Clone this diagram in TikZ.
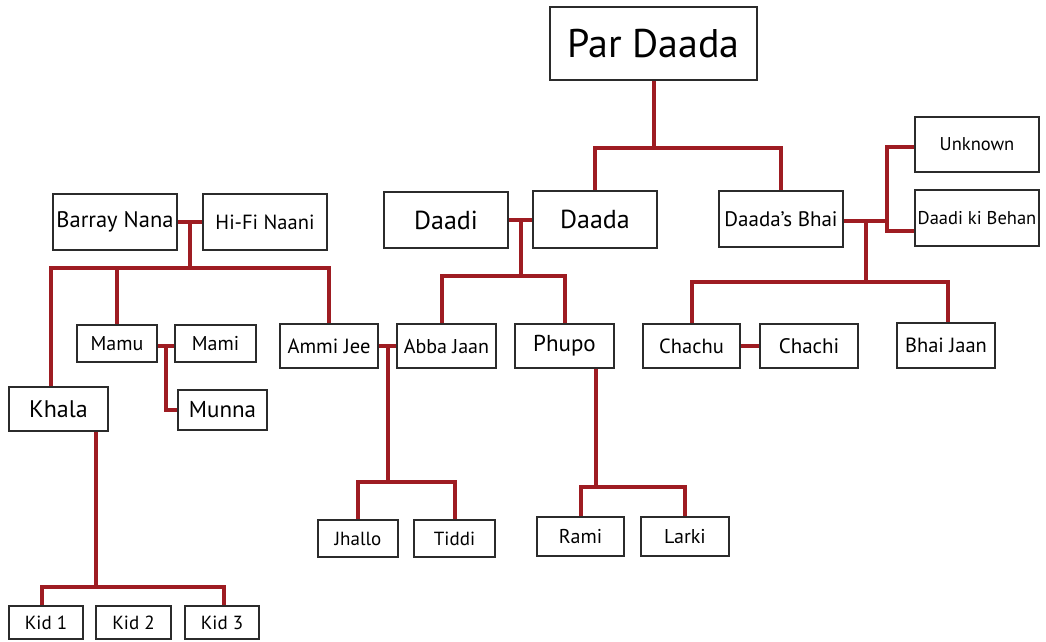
\documentclass[tikz,border=0pt]{standalone}
\usepackage{fontspec}
\setmainfont{PT Sans}
\usetikzlibrary{calc}
\pgfdeclarelayer{links}
\pgfsetlayers{links,main}
\definecolor{linkred}{HTML}{9E1C22}
\definecolor{boxline}{HTML}{2B2B2B}
\tikzset{
  person/.style={draw=boxline, line width=2pt, fill=white, inner sep=0pt, align=center},
  fs/.style={font=\fontsize{#1}{#1}\selectfont},
  link/.style={draw=linkred, line width=4pt, line join=miter},
}
\begin{document}
\begin{tikzpicture}[x=1pt,y=-1pt]
\useasboundingbox (0,0) rectangle (1046,641);

% family members
\node[person, fs=40, minimum width=207pt, minimum height=73pt] (pd) at (653.5,43.5) {Par Daada};
\node[person, fs=26, minimum width=124pt, minimum height=56pt] (daadi) at (446,220) {Daadi};
\node[person, fs=26, minimum width=124pt, minimum height=57pt] (daada) at (595,219.5) {Daada};
\node[person, fs=21, minimum width=124pt, minimum height=56pt] (bhai) at (781,219) {Daada’s Bhai};
\node[person, fs=18.5, minimum width=124pt, minimum height=55pt] (unknown) at (977,144.5) {Unknown};
\node[person, fs=18.5, minimum width=124pt, minimum height=56pt] (behan) at (977,218) {Daadi ki Behan};

\node[person, fs=22.5, minimum width=124pt, minimum height=56pt] (barray) at (115,222) {Barray Nana};
\node[person, fs=20.5, minimum width=124pt, minimum height=56pt] (hifi) at (265,222) {Hi-Fi Naani};
\node[person, fs=20, minimum width=80pt, minimum height=37pt] (mamu) at (117,343.5) {Mamu};
\node[person, fs=20, minimum width=81pt, minimum height=37pt] (mami) at (215.5,343.5) {Mami};
\node[person, fs=23, minimum width=89pt, minimum height=40pt] (munna) at (222.5,410) {Munna};
\node[person, fs=24, minimum width=99pt, minimum height=44pt] (khala) at (58.5,409) {Khala};
\node[person, fs=20.5, minimum width=98pt, minimum height=44pt] (ammi) at (329,346) {Ammi Jee};
\node[person, fs=20, minimum width=99pt, minimum height=44pt] (abba) at (446.5,346) {Abba Jaan};
\node[person, fs=23, minimum width=99pt, minimum height=44pt] (phupo) at (564.5,346) {Phupo};
\node[person, fs=20.5, minimum width=97pt, minimum height=44pt] (chachu) at (691.5,346) {Chachu};
\node[person, fs=21, minimum width=98pt, minimum height=44pt] (chachi) at (809,346) {Chachi};
\node[person, fs=20.5, minimum width=98pt, minimum height=45pt] (bhaijaan) at (946,345.5) {Bhai Jaan};

\node[person, fs=19, minimum width=80pt, minimum height=37pt] (jhallo) at (358,538.5) {Jhallo};
\node[person, fs=19, minimum width=81pt, minimum height=37pt] (tiddi) at (454.5,538.5) {Tiddi};
\node[person, fs=20, minimum width=87pt, minimum height=39pt] (rami) at (580.5,536.5) {Rami};
\node[person, fs=20, minimum width=88pt, minimum height=39pt] (larki) at (685,536.5) {Larki};
\node[person, fs=19, minimum width=74pt, minimum height=33pt] (kid1) at (46,622.5) {Kid 1};
\node[person, fs=19, minimum width=75pt, minimum height=33pt] (kid2) at (133.5,622.5) {Kid 2};
\node[person, fs=19, minimum width=74pt, minimum height=33pt] (kid3) at (222,622.5) {Kid 3};

% connecting lines, kept behind the boxes
\begin{pgfonlayer}{links}
  % Par Daada and his sons
  \coordinate (j-pd) at ($(pd.south)+(0,67)$);
  \path[link] (pd.south) -- (j-pd);
  \path[link] (daada.north) |- (j-pd) -| (bhai.north);

  % Daadi + Daada and their children
  \coordinate (j-dd) at ($(daadi.east)!0.5!(daada.west)$);
  \coordinate (j-ddbar) at ($(j-dd)+(0,56)$);
  \path[link] (daadi.east) -- (daadi.east -| daada.west);
  \path[link] (j-dd) -- (j-ddbar);
  \path[link] ($(abba.north)+(-4.5,0)$) |- (j-ddbar) -| (phupo.north);

  % Daada's Bhai, his possible wives and children
  \coordinate (j-sis) at ($(bhai.east)+(43,2)$);
  \coordinate (j-bh) at ($(bhai.east)+(22,2)$);
  \coordinate (j-bhbar) at ($(j-bh)+(0,61)$);
  \path[link] ($(bhai.east)+(0,2)$) -- (j-sis);
  \path[link] ($(unknown.west)+(0,2.5)$) -| (j-sis) |- ($(behan.west)+(0,13)$);
  \path[link] (j-bh) -- (j-bhbar);
  \path[link] (chachu.north) |- (j-bhbar) -| ($(bhaijaan.north)+(2,0)$);
  \path[link] (chachu.east) -- (chachi.west);

  % Barray Nana + Hi-Fi Naani and their children
  \coordinate (j-nn) at ($(barray.east)!0.5!(hifi.west)$);
  \coordinate (j-nnbar) at ($(j-nn)+(0,46)$);
  \path[link] (barray.east) -- (hifi.west);
  \path[link] (j-nn) -- (j-nnbar);
  \path[link] ($(khala.north)+(-7.5,0)$) |- (j-nnbar) -| (ammi.north);
  \path[link] (mamu.north) -- (mamu.north |- j-nnbar);

  % Mamu + Mami and Munna
  \coordinate (j-mm) at ($(mamu.east)!0.5!(mami.west)+(0,2.5)$);
  \path[link] ($(mamu.east)+(0,2.5)$) -- ($(mami.west)+(0,2.5)$);
  \path[link] (j-mm) |- (munna.west);

  % Ammi Jee + Abba Jaan and their children
  \coordinate (j-aa) at ($(ammi.east)!0.5!(abba.west)$);
  \coordinate (j-aabar) at ($(j-aa)+(0,136)$);
  \path[link] (ammi.east) -- (abba.west);
  \path[link] (j-aa) -- (j-aabar);
  \path[link] (jhallo.north) |- (j-aabar) -| (tiddi.north);

  % Phupo and her children
  \coordinate (j-ph) at ($(phupo.south)+(31.5,0)$);
  \coordinate (j-phbar) at ($(j-ph)+(0,118)$);
  \path[link] (j-ph) -- (j-phbar);
  \path[link] (rami.north) |- (j-phbar) -| (larki.north);

  % Khala and her children
  \coordinate (j-kh) at ($(khala.south)+(37.5,0)$);
  \coordinate (j-khbar) at ($(j-kh)+(0,155)$);
  \path[link] (j-kh) -- (j-khbar);
  \path[link] ($(kid1.north)+(-4,0)$) |- (j-khbar) -| ($(kid3.north)+(2,0)$);
  \path[link] ($(kid2.north)+(1.5,0)$) -- ($(kid2.north)+(1.5,0)$ |- j-khbar);
\end{pgfonlayer}
\end{tikzpicture}
\end{document}
